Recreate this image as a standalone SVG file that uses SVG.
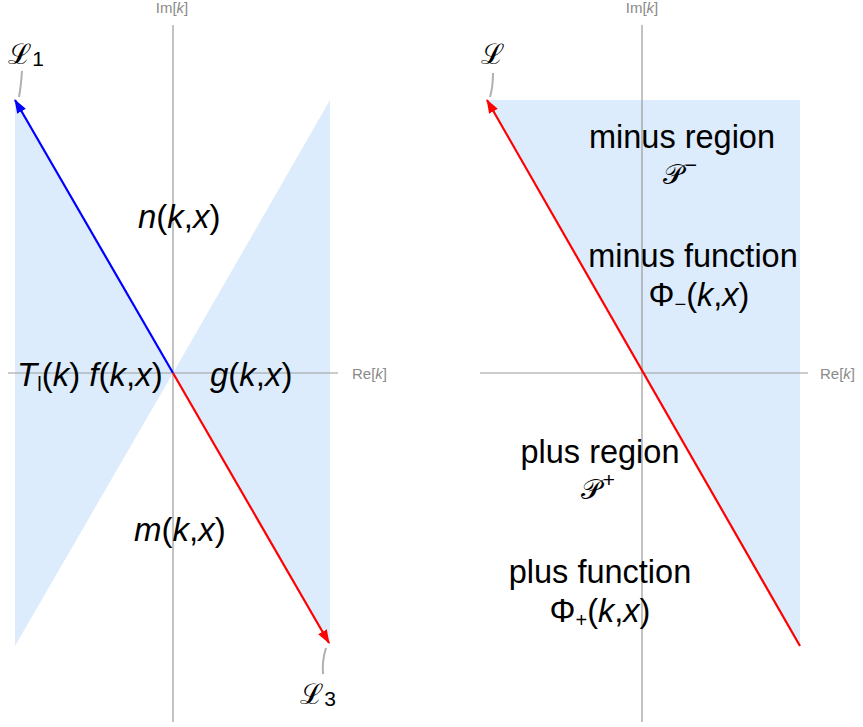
<svg xmlns="http://www.w3.org/2000/svg" width="863" height="727" viewBox="0 0 863 727">
<defs>
<style>
.ax{stroke:#9a9a9a;stroke-width:1.2;fill:none}
.shade{fill:#dcecfc;stroke:none}
.lbl{font-family:"Liberation Sans",Arial,sans-serif;font-size:33px;fill:#000}
.rl{font-size:32.5px}
.axl{font-family:"Liberation Sans",Arial,sans-serif;font-size:15px;fill:#8a8a8a}
.scr{font-family:"DejaVu Serif","Noto Sans",serif;font-size:28px;fill:#000}
.it{font-style:italic}
.sub{font-size:20px}
.num{font-family:"Liberation Sans",Arial,sans-serif;font-size:21px}
.lead{stroke:#b0b0b0;stroke-width:2;fill:none}
</style>
<marker id="ab" viewBox="0 0 14 10" refX="13" refY="5" markerWidth="14" markerHeight="10" markerUnits="userSpaceOnUse" orient="auto"><path d="M0,0 L14,5 L0,10 z" fill="#0000ff"/></marker>
<marker id="ar" viewBox="0 0 14 10" refX="13" refY="5" markerWidth="14" markerHeight="10" markerUnits="userSpaceOnUse" orient="auto"><path d="M0,0 L14,5 L0,10 z" fill="#ff0000"/></marker>
</defs>

<g id="left-panel">
<polygon class="shade" points="15,100 173,373 330,100 330,646 173,373 15,646"/>
<line class="ax" x1="173" y1="25" x2="173" y2="722"/>
<line class="ax" x1="8" y1="373" x2="338" y2="373"/>
<text class="axl" x="172" y="13" text-anchor="middle">Im[<tspan class="it">k</tspan>]</text>
<text class="axl" x="352" y="379">Re[<tspan class="it">k</tspan>]</text>
</g>

<g id="right-panel">
<polygon class="shade" points="487,100 800,100 800,646"/>
<line class="ax" x1="642" y1="25" x2="642" y2="722"/>
<line class="ax" x1="480" y1="373" x2="808" y2="373"/>
<text class="axl" x="642" y="13" text-anchor="middle">Im[<tspan class="it">k</tspan>]</text>
<text class="axl" x="820" y="379">Re[<tspan class="it">k</tspan>]</text>
</g>

<g id="connectors">
<line x1="173" y1="373" x2="15" y2="100" stroke="#0000ff" stroke-width="2.2" marker-end="url(#ab)"/>
<line x1="173" y1="373" x2="329" y2="643" stroke="#ff0000" stroke-width="2.2" marker-end="url(#ar)"/>
<line x1="800" y1="646" x2="487" y2="100" stroke="#ff0000" stroke-width="2.2" marker-end="url(#ar)"/>
<path class="lead" d="M22,71 Q21,86 19,97"/>
<path class="lead" d="M326,648 Q322,660 323,674"/>
<path class="lead" d="M493,73 Q493,87 490,97"/>
</g>

<g id="node-L1"><text class="scr" x="8" y="64">ℒ<tspan class="num" dx="1" dy="2">1</tspan></text></g>
<g id="node-L3"><text class="scr" x="300" y="704">ℒ<tspan class="num" dx="1" dy="2">3</tspan></text></g>
<g id="node-L"><text class="scr" x="481" y="64">ℒ</text></g>

<g id="node-n"><text class="lbl" x="138" y="228"><tspan class="it">n</tspan>(<tspan class="it">k</tspan>,<tspan class="it">x</tspan>)</text></g>
<g id="node-m"><text class="lbl" x="134" y="541"><tspan class="it">m</tspan>(<tspan class="it">k</tspan>,<tspan class="it">x</tspan>)</text></g>
<g id="node-Tf"><text class="lbl" x="17" y="386"><tspan class="it">T</tspan><tspan class="sub" dy="5">l</tspan><tspan dy="-5">(</tspan><tspan class="it">k</tspan>) <tspan class="it">f</tspan>(<tspan class="it">k</tspan>,<tspan class="it">x</tspan>)</text></g>
<g id="node-g"><text class="lbl" x="210" y="386"><tspan class="it">g</tspan>(<tspan class="it">k</tspan>,<tspan class="it">x</tspan>)</text></g>

<g id="node-minus-region">
<text class="lbl rl" x="682" y="148" text-anchor="middle">minus region</text>
<text class="scr" x="680" y="184" text-anchor="middle">𝒫<tspan class="num" dx="2" dy="-12">−</tspan></text>
</g>
<g id="node-minus-function">
<text class="lbl rl" x="693" y="267" text-anchor="middle">minus function</text>
<text class="lbl rl" x="699" y="306" text-anchor="middle">Φ<tspan class="sub" dy="5">−</tspan><tspan dy="-5">(</tspan><tspan class="it">k</tspan>,<tspan class="it">x</tspan>)</text>
</g>
<g id="node-plus-region">
<text class="lbl rl" x="600" y="463" text-anchor="middle">plus region</text>
<text class="scr" x="598" y="499" text-anchor="middle">𝒫<tspan class="num" dx="2" dy="-12">+</tspan></text>
</g>
<g id="node-plus-function">
<text class="lbl rl" x="600" y="583" text-anchor="middle">plus function</text>
<text class="lbl rl" x="600" y="622" text-anchor="middle">Φ<tspan class="sub" dy="5">+</tspan><tspan dy="-5">(</tspan><tspan class="it">k</tspan>,<tspan class="it">x</tspan>)</text>
</g>
</svg>
